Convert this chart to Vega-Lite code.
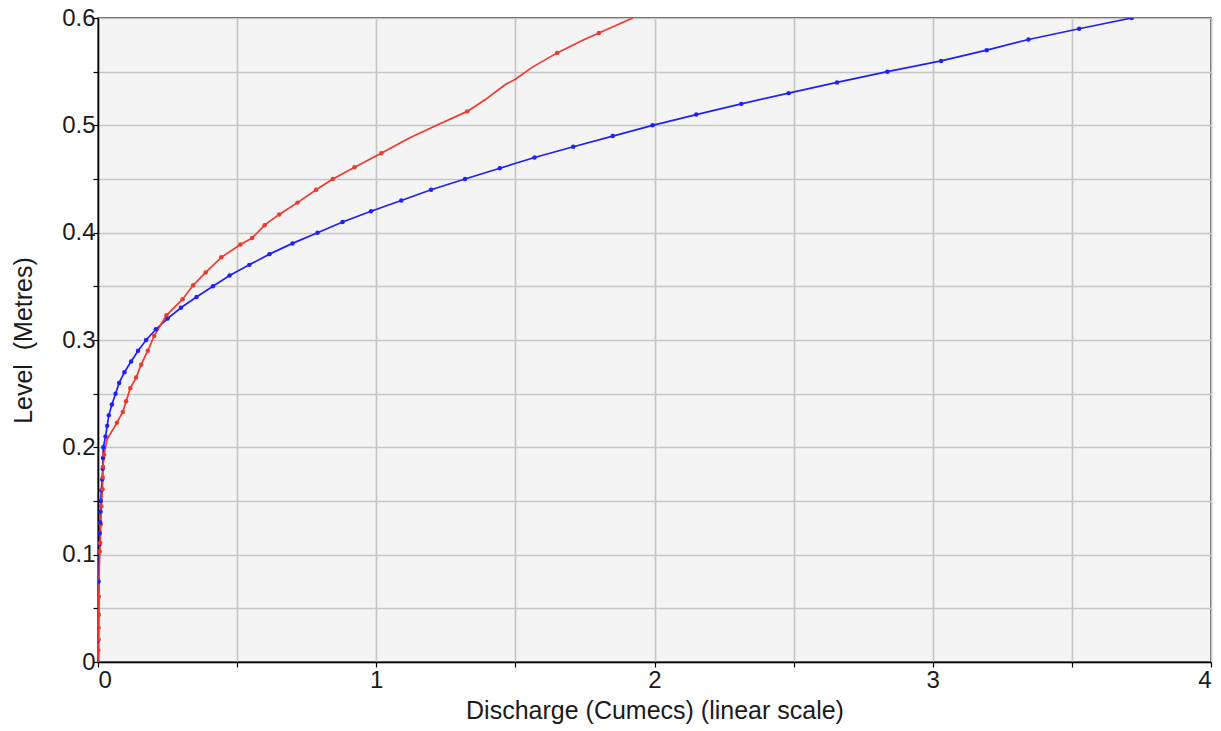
{
  "$schema": "https://vega.github.io/schema/vega-lite/v6.json",
  "width": 1113,
  "height": 644,
  "autosize": {"type": "none"},
  "padding": {"left": 98, "top": 18, "right": 10, "bottom": 69},
  "background": "white",
  "title": {"text": "Upstream rating", "color": "#f03a2e", "fontSize": 24, "font": "Liberation Sans", "fontWeight": "normal", "anchor": "start", "frame": "group", "baseline": "alphabetic", "offset": 19, "dx": 182},
  "config": {
    "view": {"fill": "#f4f4f4", "stroke": "#222222", "strokeWidth": 1.5},
    "axis": {
      "domainColor": "#000000", "domainWidth": 1.5,
      "tickColor": "#000000", "tickSize": 5, "tickWidth": 1.2,
      "gridColor": "#c6c6c6", "gridWidth": 1.7,
      "labelFont": "Liberation Sans", "labelFontSize": 24, "labelColor": "#1a1a1a",
      "titleFont": "Liberation Sans", "titleFontSize": 25, "titleFontWeight": "normal", "titleColor": "#1a1a1a"
    }
  },
  "data": {"values": [
    {"series": "Blue", "discharge": 0.0, "level": 0.0, "measured": false},
    {"series": "Blue", "discharge": 0.0, "level": 0.02, "measured": true},
    {"series": "Blue", "discharge": 0.002, "level": 0.075, "measured": true},
    {"series": "Blue", "discharge": 0.003, "level": 0.08, "measured": false},
    {"series": "Blue", "discharge": 0.004, "level": 0.09, "measured": false},
    {"series": "Blue", "discharge": 0.005, "level": 0.10, "measured": false},
    {"series": "Blue", "discharge": 0.006, "level": 0.11, "measured": true},
    {"series": "Blue", "discharge": 0.006, "level": 0.12, "measured": true},
    {"series": "Blue", "discharge": 0.008, "level": 0.13, "measured": true},
    {"series": "Blue", "discharge": 0.009, "level": 0.14, "measured": true},
    {"series": "Blue", "discharge": 0.010, "level": 0.15, "measured": true},
    {"series": "Blue", "discharge": 0.012, "level": 0.16, "measured": true},
    {"series": "Blue", "discharge": 0.015, "level": 0.17, "measured": true},
    {"series": "Blue", "discharge": 0.017, "level": 0.18, "measured": true},
    {"series": "Blue", "discharge": 0.018, "level": 0.19, "measured": true},
    {"series": "Blue", "discharge": 0.019, "level": 0.20, "measured": true},
    {"series": "Blue", "discharge": 0.027, "level": 0.21, "measured": true},
    {"series": "Blue", "discharge": 0.033, "level": 0.22, "measured": true},
    {"series": "Blue", "discharge": 0.039, "level": 0.23, "measured": true},
    {"series": "Blue", "discharge": 0.050, "level": 0.24, "measured": true},
    {"series": "Blue", "discharge": 0.063, "level": 0.25, "measured": true},
    {"series": "Blue", "discharge": 0.076, "level": 0.26, "measured": true},
    {"series": "Blue", "discharge": 0.095, "level": 0.27, "measured": true},
    {"series": "Blue", "discharge": 0.119, "level": 0.28, "measured": true},
    {"series": "Blue", "discharge": 0.144, "level": 0.29, "measured": true},
    {"series": "Blue", "discharge": 0.173, "level": 0.30, "measured": true},
    {"series": "Blue", "discharge": 0.208, "level": 0.31, "measured": true},
    {"series": "Blue", "discharge": 0.250, "level": 0.32, "measured": true},
    {"series": "Blue", "discharge": 0.298, "level": 0.33, "measured": true},
    {"series": "Blue", "discharge": 0.354, "level": 0.34, "measured": true},
    {"series": "Blue", "discharge": 0.413, "level": 0.35, "measured": true},
    {"series": "Blue", "discharge": 0.473, "level": 0.36, "measured": true},
    {"series": "Blue", "discharge": 0.544, "level": 0.37, "measured": true},
    {"series": "Blue", "discharge": 0.616, "level": 0.38, "measured": true},
    {"series": "Blue", "discharge": 0.699, "level": 0.39, "measured": true},
    {"series": "Blue", "discharge": 0.789, "level": 0.40, "measured": true},
    {"series": "Blue", "discharge": 0.879, "level": 0.41, "measured": true},
    {"series": "Blue", "discharge": 0.981, "level": 0.42, "measured": true},
    {"series": "Blue", "discharge": 1.090, "level": 0.43, "measured": true},
    {"series": "Blue", "discharge": 1.197, "level": 0.44, "measured": true},
    {"series": "Blue", "discharge": 1.319, "level": 0.45, "measured": true},
    {"series": "Blue", "discharge": 1.444, "level": 0.46, "measured": true},
    {"series": "Blue", "discharge": 1.569, "level": 0.47, "measured": true},
    {"series": "Blue", "discharge": 1.708, "level": 0.48, "measured": true},
    {"series": "Blue", "discharge": 1.850, "level": 0.49, "measured": true},
    {"series": "Blue", "discharge": 1.993, "level": 0.50, "measured": true},
    {"series": "Blue", "discharge": 2.150, "level": 0.51, "measured": true},
    {"series": "Blue", "discharge": 2.312, "level": 0.52, "measured": true},
    {"series": "Blue", "discharge": 2.482, "level": 0.53, "measured": true},
    {"series": "Blue", "discharge": 2.656, "level": 0.54, "measured": true},
    {"series": "Blue", "discharge": 2.837, "level": 0.55, "measured": true},
    {"series": "Blue", "discharge": 3.030, "level": 0.56, "measured": true},
    {"series": "Blue", "discharge": 3.194, "level": 0.57, "measured": true},
    {"series": "Blue", "discharge": 3.344, "level": 0.58, "measured": true},
    {"series": "Blue", "discharge": 3.526, "level": 0.59, "measured": true},
    {"series": "Blue", "discharge": 3.715, "level": 0.60, "measured": true},
    {"series": "Red", "discharge": 0.001, "level": 0.0, "measured": true},
    {"series": "Red", "discharge": 0.001, "level": 0.011, "measured": true},
    {"series": "Red", "discharge": 0.002, "level": 0.021, "measured": true},
    {"series": "Red", "discharge": 0.002, "level": 0.032, "measured": true},
    {"series": "Red", "discharge": 0.003, "level": 0.044, "measured": true},
    {"series": "Red", "discharge": 0.003, "level": 0.061, "measured": true},
    {"series": "Red", "discharge": 0.004, "level": 0.075, "measured": false},
    {"series": "Red", "discharge": 0.006, "level": 0.103, "measured": true},
    {"series": "Red", "discharge": 0.008, "level": 0.111, "measured": true},
    {"series": "Red", "discharge": 0.010, "level": 0.128, "measured": true},
    {"series": "Red", "discharge": 0.012, "level": 0.145, "measured": true},
    {"series": "Red", "discharge": 0.016, "level": 0.161, "measured": true},
    {"series": "Red", "discharge": 0.017, "level": 0.172, "measured": true},
    {"series": "Red", "discharge": 0.018, "level": 0.182, "measured": true},
    {"series": "Red", "discharge": 0.022, "level": 0.193, "measured": true},
    {"series": "Red", "discharge": 0.032, "level": 0.207, "measured": false},
    {"series": "Red", "discharge": 0.068, "level": 0.223, "measured": true},
    {"series": "Red", "discharge": 0.089, "level": 0.233, "measured": true},
    {"series": "Red", "discharge": 0.101, "level": 0.243, "measured": true},
    {"series": "Red", "discharge": 0.116, "level": 0.255, "measured": true},
    {"series": "Red", "discharge": 0.137, "level": 0.265, "measured": true},
    {"series": "Red", "discharge": 0.155, "level": 0.277, "measured": true},
    {"series": "Red", "discharge": 0.179, "level": 0.290, "measured": true},
    {"series": "Red", "discharge": 0.202, "level": 0.304, "measured": true},
    {"series": "Red", "discharge": 0.246, "level": 0.323, "measured": true},
    {"series": "Red", "discharge": 0.304, "level": 0.338, "measured": true},
    {"series": "Red", "discharge": 0.342, "level": 0.351, "measured": true},
    {"series": "Red", "discharge": 0.387, "level": 0.363, "measured": true},
    {"series": "Red", "discharge": 0.443, "level": 0.377, "measured": true},
    {"series": "Red", "discharge": 0.512, "level": 0.389, "measured": true},
    {"series": "Red", "discharge": 0.554, "level": 0.395, "measured": true},
    {"series": "Red", "discharge": 0.599, "level": 0.407, "measured": true},
    {"series": "Red", "discharge": 0.651, "level": 0.417, "measured": true},
    {"series": "Red", "discharge": 0.717, "level": 0.428, "measured": true},
    {"series": "Red", "discharge": 0.784, "level": 0.440, "measured": true},
    {"series": "Red", "discharge": 0.844, "level": 0.450, "measured": true},
    {"series": "Red", "discharge": 0.922, "level": 0.461, "measured": true},
    {"series": "Red", "discharge": 1.018, "level": 0.474, "measured": true},
    {"series": "Red", "discharge": 1.117, "level": 0.488, "measured": false},
    {"series": "Red", "discharge": 1.225, "level": 0.501, "measured": false},
    {"series": "Red", "discharge": 1.327, "level": 0.513, "measured": true},
    {"series": "Red", "discharge": 1.392, "level": 0.524, "measured": false},
    {"series": "Red", "discharge": 1.464, "level": 0.538, "measured": false},
    {"series": "Red", "discharge": 1.500, "level": 0.543, "measured": false},
    {"series": "Red", "discharge": 1.560, "level": 0.554, "measured": false},
    {"series": "Red", "discharge": 1.650, "level": 0.5675, "measured": true},
    {"series": "Red", "discharge": 1.740, "level": 0.579, "measured": false},
    {"series": "Red", "discharge": 1.800, "level": 0.586, "measured": true},
    {"series": "Red", "discharge": 1.922, "level": 0.600, "measured": false}
  ]},
  "encoding": {
    "x": {
      "field": "discharge", "type": "quantitative",
      "scale": {"domain": [0, 4], "nice": false, "zero": false},
      "axis": {
        "title": "Discharge (Cumecs) (linear scale)",
        "values": [0, 0.5, 1, 1.5, 2, 2.5, 3, 3.5, 4],
        "labelExpr": "datum.value % 1 === 0 ? format(datum.value, 'd') : ''",
        "labelPadding": 1,
        "titlePadding": 6
      }
    },
    "y": {
      "field": "level", "type": "quantitative",
      "scale": {"domain": [0, 0.6], "nice": false},
      "axis": {
        "title": "Level\u00a0\u00a0(Metres)",
        "values": [0, 0.05, 0.1, 0.15, 0.2, 0.25, 0.3, 0.35, 0.4, 0.45, 0.5, 0.55, 0.6],
        "labelExpr": "abs(datum.value * 10 - round(datum.value * 10)) < 0.001 ? format(datum.value, '.1~f') : ''",
        "labelPadding": -2,
        "titlePadding": 25
      }
    },
    "color": {
      "field": "series", "type": "nominal",
      "scale": {"domain": ["Blue", "Red"], "range": ["#1f1fff", "#f0392d"]},
      "legend": null
    },
    "order": {"field": "level", "type": "quantitative"}
  },
  "layer": [
    {"mark": {"type": "line", "strokeWidth": 1.7, "clip": true}},
    {"transform": [{"filter": "datum.measured"}], "mark": {"type": "circle", "size": 20, "opacity": 1, "clip": true}}
  ]
}
